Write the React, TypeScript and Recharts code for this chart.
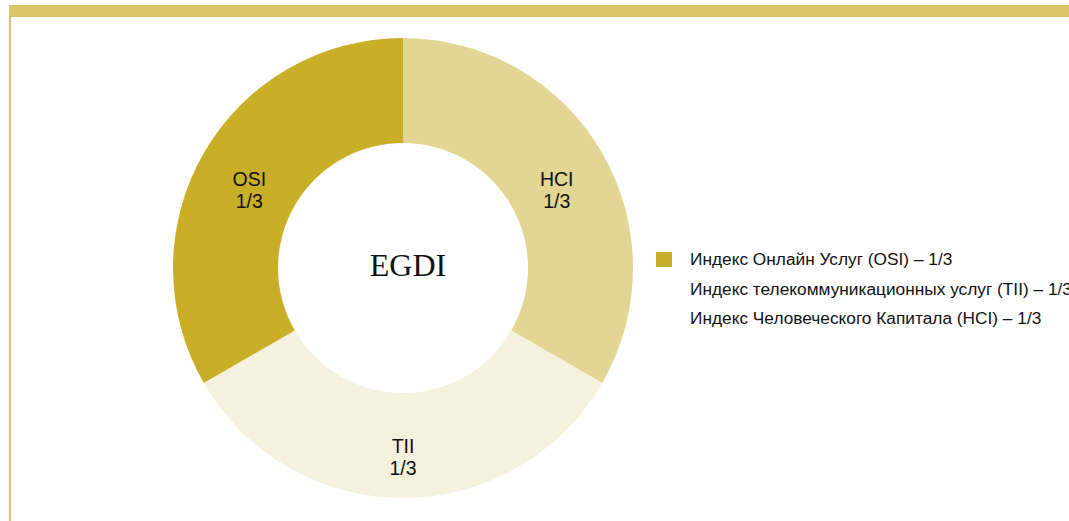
import React from 'react';
import { PieChart, Pie, Cell, Legend } from 'recharts';

const categories = ['HCI', 'TII', 'OSI'];
const shares = [1, 1, 1];
const shareLabels = ['1/3', '1/3', '1/3'];
const colors = ['#E3D593', '#F6F1DC', '#C9AE27'];
const legendNames = [
  'Индекс Онлайн Услуг (OSI) – 1/3',
  'Индекс телекоммуникационных услуг (TII) – 1/3',
  'Индекс Человеческого Капитала (HCI) – 1/3',
];
const legendMarkers = [true, false, false];
const legendColors = ['#C9AE27', '#F6F1DC', '#E3D593'];
const centerTitle = 'EGDI';

const data = categories.map((c, i) => ({ name: c, value: shares[i], share: shareLabels[i] }));

const RAD = Math.PI / 180;

const renderLabel = (props: any) => {
  const { cx, cy, midAngle, innerRadius, outerRadius, index } = props;
  const r = (innerRadius + outerRadius) / 2;
  const x = cx + r * Math.cos(-midAngle * RAD);
  const y = cy + r * Math.sin(-midAngle * RAD) + 12;
  return (
    <text
      x={x}
      y={y}
      textAnchor="middle"
      fill="#111"
      fontSize={19.5}
      fontFamily="'Liberation Sans', Arial, sans-serif"
    >
      <tspan x={x} dy={-5}>{data[index].name}</tspan>
      <tspan x={x} dy={22}>{data[index].share}</tspan>
    </text>
  );
};

const renderLegend = () => (
  <div style={{ fontFamily: "'Liberation Sans', Arial, sans-serif", fontSize: 17.3, color: '#111' }}>
    {legendNames.map((n, i) => (
      <div key={i} style={{ display: 'flex', alignItems: 'center', height: 29.5, whiteSpace: 'nowrap' }}>
        <span
          style={{
            display: 'inline-block',
            width: 16,
            height: 15,
            marginRight: 18,
            background: legendMarkers[i] ? legendColors[i] : 'transparent',
          }}
        />
        <span>{n}</span>
      </div>
    ))}
  </div>
);

export default function App() {
  return (
    <div style={{ position: 'absolute', left: 0, top: 0, width: 1069, height: 521, overflow: 'hidden', background: '#fff' }}>
      <div style={{ position: 'absolute', left: 9, top: 5, width: 1060, height: 12, background: '#DAC66A' }} />
      <div style={{ position: 'absolute', left: 9, top: 5, width: 2, height: 516, background: '#DAC66A' }} />
      <div style={{ position: 'absolute', left: 0, top: 0 }}>
        <PieChart width={1069} height={521} margin={{ top: 0, right: 0, bottom: 0, left: 0 }}>
          <Pie
            data={data}
            dataKey="value"
            nameKey="name"
            cx={403}
            cy={268}
            innerRadius={125}
            outerRadius={230}
            startAngle={90}
            endAngle={-270}
            stroke="none"
            label={renderLabel}
            labelLine={false}
            isAnimationActive={false}
          >
            {data.map((d, i) => (
              <Cell key={d.name} fill={colors[i]} />
            ))}
          </Pie>
          <text
            x={408}
            y={276}
            textAnchor="middle"
            fontFamily="'Liberation Serif', 'Times New Roman', serif"
            fontSize={32}
            fill="#111"
          >
            {centerTitle}
          </text>
          <Legend
            content={renderLegend}
            layout="vertical"
            wrapperStyle={{ position: 'absolute', left: 656, top: 245, width: 'auto' }}
          />
        </PieChart>
      </div>
    </div>
  );
}
